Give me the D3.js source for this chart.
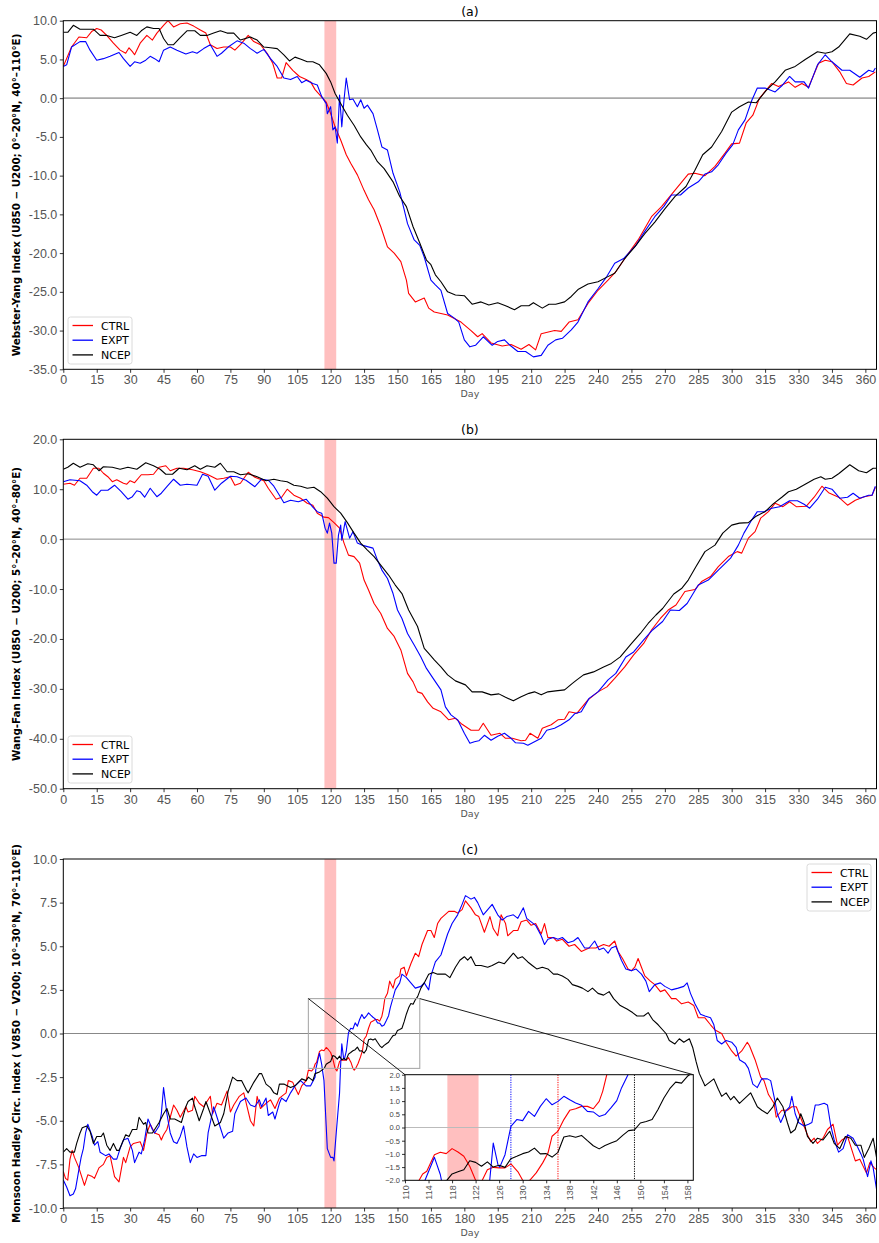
<!DOCTYPE html>
<meta charset="utf-8">
<title>Monsoon circulation indices</title>
<style>
    body {
        margin: 0;
        background: #fff;
        font-family: "DejaVu Sans", sans-serif;
    }
</style>
<body>
<script src="https://cdn.jsdelivr.net/npm/d3@7/dist/d3.min.js"></script>
<script>

    // ---- values: [day, index] ----
    var wyCtrl = [[0,4.1],[3.7,6.6],[7,7.9],[10.5,7.8],[12.7,8.6],[15,9.0],[17,8.8],[19.5,8.1],[22.5,7.1],[25.5,6.2],[28,5.8],[29.5,6.5],[31,6.0],[32,5.6],[34.5,7.1],[37.5,8.1],[40,7.5],[42,8.4],[45,9.4],[47,10.0],[49.5,9.2],[52.5,9.6],[55.5,9.7],[58.5,9.3],[61.5,8.8],[64,8.4],[66,6.9],[69,6.4],[72,6.6],[75,6.6],[77,6.2],[79.5,6.9],[83,8.1],[85.5,7.3],[88.5,6.9],[91.5,5.8],[94,4.5],[96,2.6],[98,2.6],[100,4.6],[103,3.6],[106,2.8],[109,2.4],[111,2.1],[113,1.1],[115.5,0.3],[118,-0.5],[120,-2.0],[122,-3.7],[124.5,-5.4],[127,-7.3],[129,-8.4],[132,-9.9],[135,-11.9],[137,-13.1],[139.5,-14.4],[142.5,-16.6],[145.5,-19.2],[148.5,-20.0],[151.5,-21.1],[154,-23.5],[155,-25.2],[158,-26.3],[162,-25.8],[164,-27.1],[166.5,-27.6],[169.5,-27.8],[172.5,-28.0],[178.5,-28.9],[183,-30],[186,-30.8],[188,-30.4],[192,-31.6],[197,-32],[201,-31.8],[205.5,-32.4],[209,-31.8],[212,-32.5],[214.5,-30.4],[220.5,-30],[223.5,-30.1],[227,-28.9],[231,-28.6],[235.5,-26.5],[240,-24.8],[244.5,-23.5],[248,-22.4],[252.5,-20.5],[258,-18.3],[264,-15.3],[268.5,-14],[274.5,-11.9],[280.5,-9.8],[283.5,-9.7],[288,-10],[292.5,-8.8],[297,-7.1],[300,-5.9],[303.5,-5.8],[306.5,-3.2],[309.5,-2.2],[312.5,0],[318,1.9],[321,1.5],[325.5,2.1],[328.5,1.4],[331.5,1.9],[334.5,1.4],[339,4.5],[342,4.9],[345,4.7],[348.5,3.4],[351.5,1.9],[354.5,1.7],[358.5,2.6],[361.5,2.8],[364.5,3.4]];
    var wyExpt = [[0,4.1],[1.5,4.3],[3.7,6.6],[7.5,7.3],[10,7.3],[12,6.2],[15,4.9],[18,5.1],[21,5.4],[25,5.9],[27,5.1],[30,4.1],[32,4.7],[34.5,4.5],[37,4.9],[39,5.4],[41,5.1],[43,4.7],[45,6.2],[48,6.6],[51,6.2],[55,5.7],[58,6.0],[60,5.8],[63,6.4],[66,6.9],[69,5.4],[71,5.8],[74,6.6],[78,7.4],[81,7.1],[84,6.4],[87,5.8],[90,6.3],[93,5.1],[96,4.1],[99,2.6],[102,2.4],[105,2.8],[107,2.0],[109,2.3],[112,1.9],[114,1.7],[116,0.2],[118,-0.7],[118.5,-2.0],[120,-1.1],[121,-4.1],[122,-3.7],[123,-5.8],[124,0.4],[125,-3.7],[126,-0.2],[127,2.6],[128.5,-0.2],[130,-0.1],[132,-1.1],[133.5,-0.2],[135,-1.3],[136.5,-0.9],[139,-2.0],[141,-4.1],[143,-6.3],[145.5,-6.7],[148,-9.7],[151,-12.1],[153,-14.4],[154.5,-16.2],[157.5,-18.3],[160,-19.0],[162,-20.5],[165,-23.5],[167,-24.1],[169.5,-24.8],[172.5,-27.8],[175.5,-28.4],[177.5,-28.9],[180,-31.2],[182.5,-32.1],[185,-31.9],[188.5,-30.8],[192.5,-31.9],[195,-31.4],[198,-31.2],[200.5,-31.9],[204,-32.7],[207.5,-32.7],[211,-33.4],[214.5,-33.2],[217.5,-31.9],[221,-31.2],[224,-31.0],[228,-29.9],[231,-28.9],[235.5,-26.3],[240,-24.6],[244,-23.0],[247.5,-21.3],[251.5,-20.7],[257,-19.0],[261,-17.2],[265.5,-15.3],[269.5,-14.0],[273,-12.5],[277,-12.5],[280.5,-11.6],[285,-10.8],[288,-9.8],[291,-9.5],[294,-8.6],[297.5,-7.1],[300.5,-6.0],[303,-4.1],[306,-2.8],[309,-0.3],[311.5,1.3],[315,1.3],[319.5,0.8],[322.5,1.6],[326,2.8],[328.5,2.1],[332.5,2.1],[334.5,1.3],[338.5,4.3],[342,5.6],[345,4.7],[349.5,3.6],[353,3.6],[357.5,2.7],[361.5,3.6],[363.5,3.4],[364.5,3.9]];
    var wyNcep = [[0,8.5],[2,8.5],[4.5,9.4],[7.5,8.9],[11,8.9],[13.5,8.9],[16.5,8.1],[19.5,8.1],[23,7.8],[26,8.1],[30,8.5],[33,8.1],[35,8.7],[37.5,9.2],[40.5,9.0],[43,9.0],[45,7.7],[47,6.9],[49.5,6.9],[52,7.7],[55.5,8.7],[59,8.7],[61.5,8.1],[64.5,8.1],[67.5,8.4],[70.5,8.7],[73.5,8.4],[76.5,8.4],[79.5,7.5],[84,7.9],[87,7.5],[90,6.6],[93,6.5],[96,6.4],[99,5.6],[101.5,4.8],[104,5.3],[107,5.0],[109.5,4.7],[112,4.7],[115,4.3],[118,3.2],[120,2.1],[122,0.6],[124.5,-0.7],[127.5,-2.2],[130.5,-3.5],[133.5,-5.0],[136,-6.0],[138,-6.7],[141,-8.2],[144,-9.1],[148,-10.8],[151,-12.7],[154,-14.0],[157,-16.6],[160,-18.7],[163,-20.9],[165,-21.5],[167,-22.8],[169.5,-23.7],[172.5,-25.0],[176,-25.4],[180,-25.5],[183.5,-26.6],[187.5,-26.3],[191,-26.7],[195,-26.4],[198.5,-26.8],[202.5,-27.3],[205.5,-26.8],[209,-26.8],[211,-26.4],[215,-27.1],[218,-26.6],[221,-26.6],[225,-26.3],[228,-25.6],[231,-24.7],[235.5,-24.0],[240,-23.7],[244,-23.1],[247.5,-22.6],[252,-20.7],[256.5,-19.2],[261,-17.5],[265.5,-16.0],[270,-14.3],[274.5,-12.7],[279.5,-11.4],[283.5,-9.3],[287,-7.3],[291,-6.3],[295.5,-4.3],[300,-1.8],[303.5,-1.1],[307.5,-0.5],[311,-0.6],[315.5,1.0],[319.5,2.1],[324,3.6],[328.5,4.1],[333,5.0],[338.5,6.0],[342,5.8],[345,6.0],[348,6.6],[353,8.3],[357.5,8.0],[360.5,7.6],[363.5,8.4],[365,8.5]];

    var wfCtrl = [[0,11.0],[3,11.2],[5,10.8],[7.5,12.2],[10.5,12.2],[13.5,14.2],[16,14.2],[18,13.2],[20,12.5],[22,11.5],[24,11.9],[27,11.2],[28.5,11.0],[30,11.7],[32,11.3],[35,12.9],[38,12.9],[40.5,13.0],[43,14.4],[46,14.7],[48,13.7],[51,14.2],[54,14.2],[58,13.9],[61.5,13.5],[65,12.9],[69,12.0],[72,12.2],[75,12.5],[77,10.8],[79.5,11.2],[83,13.4],[86,12.4],[90,11.7],[92,10.2],[95.5,8.0],[98,8.4],[100.5,10.0],[103.5,8.8],[106.5,8.2],[109.5,7.2],[112,6.8],[114,5.2],[117,4.4],[119,4.3],[121.5,3.3],[124,2.2],[126,-0.8],[128,-3.2],[130.5,-3.5],[133,-4.8],[135,-8.2],[137,-10.2],[139.5,-12.9],[142.5,-14.9],[145.5,-17.9],[148.5,-19.5],[151.5,-22.2],[154.5,-26.9],[157,-28.6],[159,-30.6],[161,-30.9],[163.5,-32.6],[166,-33.9],[169.5,-34.6],[173,-36.2],[176,-35.9],[179,-37.1],[183,-38.3],[186.5,-38.3],[188.5,-36.9],[192,-39.3],[196,-38.9],[198.5,-39.9],[201.5,-39.9],[205.5,-40.4],[207.5,-40.3],[209.5,-38.9],[213,-39.9],[215,-37.9],[219,-37.2],[222,-36.2],[225,-36.1],[227,-34.6],[230.5,-34.9],[235.5,-32.2],[240,-30.6],[244,-29.6],[247.5,-27.9],[252,-25.6],[256,-23.2],[260.5,-20.9],[264,-18.2],[268,-15.9],[271.5,-14.2],[275,-13.2],[279,-10.5],[283.5,-10.1],[286.5,-8.5],[290.5,-7.5],[294,-5.5],[298.5,-3.5],[302.5,-2.5],[304.5,-2.8],[307.5,0.2],[310.5,1.5],[313,4.2],[316.5,5.5],[319.5,7.2],[323,6.5],[326,7.5],[329,6.5],[333.5,6.6],[337,8.4],[340.5,10.6],[343.5,9.3],[348,8.4],[352,6.8],[355.5,7.8],[359.5,8.5],[363,8.8],[364.5,10.4]];
    var wfExpt = [[0,11.5],[3,11.9],[7.5,11.7],[10.5,10.8],[13,9.5],[15,8.8],[17,9.8],[20,9.8],[23,10.8],[26,9.5],[29,8.0],[31,8.5],[33,9.7],[34.5,9.5],[36.5,8.4],[39,10.2],[42,8.5],[44,9.2],[46.5,10.5],[49.5,12.0],[52.5,10.8],[55.5,11.0],[60,10.8],[62.5,13.0],[65,12.6],[68,9.8],[71,11.2],[75,12.6],[78,12.5],[82,11.8],[86,10.5],[89,12.0],[92,11.8],[94.5,10.6],[97,8.8],[99,7.3],[102,7.8],[105.5,7.5],[109,8.0],[112,6.4],[114,5.5],[116,5.2],[117.5,2.2],[118.5,1.2],[119.5,3.2],[120.5,1.2],[121.5,-4.8],[122.5,-4.8],[123.5,0.8],[124.5,2.8],[125,-0.2],[126.5,3.5],[128.5,0.2],[130,1.5],[132,-0.8],[134,-1.2],[136.5,-1.5],[139,-1.8],[141,-4.2],[143,-6.2],[145.5,-7.9],[148,-10.9],[150,-14.2],[152,-15.9],[154.5,-18.9],[157.5,-21.2],[160.5,-23.6],[163,-25.9],[166,-27.9],[169.5,-30.2],[171.5,-33.6],[174,-35.2],[177,-36.2],[180,-38.9],[182.5,-40.9],[184.5,-40.6],[186.5,-40.4],[189,-39.3],[192,-40.3],[195,-39.5],[198,-38.9],[201,-39.9],[203,-40.8],[206.5,-40.9],[208.5,-41.3],[211.5,-40.6],[214.5,-39.9],[217,-38.3],[220.5,-37.9],[223.5,-37.2],[227,-36.2],[229.5,-35.0],[232.5,-34.6],[236,-31.9],[240,-30.6],[244.5,-28.2],[248,-26.9],[252.5,-23.6],[256,-22.6],[260.5,-20.2],[264.5,-18.2],[269,-16.5],[272.5,-14.2],[276.5,-14.3],[280,-12.9],[285,-9.2],[289.5,-8.2],[294,-6.2],[299.5,-3.8],[303,-1.2],[305.5,1.2],[308.5,3.5],[311.5,5.5],[314.5,5.5],[318,6.2],[321.5,6.5],[326,7.7],[329.5,7.7],[332.5,7.0],[335,6.2],[338.5,8.0],[342,10.4],[345,10.0],[348.5,8.2],[352,8.4],[354.5,9.2],[357.5,8.2],[361.5,8.8],[363,8.8],[364.5,10.6]];
    var wfNcep = [[0,14.0],[2,14.4],[4.5,15.2],[7.5,14.4],[11,15.1],[13.5,14.9],[16,13.7],[18,14.5],[22,14.4],[25.5,14.0],[29,14.4],[33,14.0],[37,15.3],[40.5,14.7],[43.5,14.0],[46,13.0],[49,13.0],[52,14.2],[55.5,13.9],[59,14.7],[61.5,14.0],[64.5,14.7],[68,14.4],[70.5,15.2],[73.5,13.5],[76.5,13.5],[79.5,12.9],[83,13.1],[87,12.5],[91,11.7],[94.5,12.0],[97.5,11.7],[100.5,11.5],[103.5,10.8],[106.5,10.6],[109.5,10.2],[112.5,10.4],[115.5,9.5],[118.5,8.2],[121.5,6.5],[124.5,5.2],[127.5,3.3],[130.5,1.2],[133.5,-0.8],[136.5,-2.2],[139.5,-3.5],[143,-5.5],[146,-7.2],[149,-9.2],[152,-10.9],[155,-14.2],[159,-17.5],[162,-21.9],[164,-22.9],[166.5,-24.2],[169.5,-25.6],[172.5,-27.2],[176,-28.4],[180.5,-29.2],[183.5,-30.6],[188,-30.6],[192,-31.2],[195.5,-31.0],[198.5,-31.7],[202,-32.4],[205.5,-31.6],[209,-30.9],[211.5,-30.6],[214.5,-31.2],[217.5,-30.6],[221,-30.4],[225,-30.2],[228.5,-28.9],[230.5,-28.2],[233.5,-27.2],[238,-26.6],[242.5,-25.6],[246,-24.9],[250,-23.6],[254.5,-21.2],[259,-18.9],[262.5,-16.9],[266,-15.2],[269,-13.9],[274,-11.0],[277.5,-9.9],[280.5,-8.2],[284,-5.5],[288,-2.5],[292.5,-1.2],[296,1.2],[300,2.8],[303.5,3.2],[307.5,3.3],[311,4.6],[315,5.5],[318.5,7.0],[322.5,8.4],[325.5,9.5],[329,10.0],[333,11.0],[337,12.0],[340,12.5],[342,12.0],[345,12.2],[348,13.1],[353,14.9],[357,13.7],[360.5,13.3],[363.5,14.2],[365,14.2]];

    var mhCtrl = [[0,-7.9],[1,-8.3],[2,-8.4],[3,-7.2],[4,-6.7],[5,-7.1],[7,-7.7],[8,-8.1],[9.5,-8.7],[11,-8.1],[13,-8.2],[14,-8.3],[16,-7.7],[18,-7.5],[19.5,-7.1],[21,-7.0],[23,-8.2],[25,-8.5],[27,-7.1],[28,-7.4],[30,-6.5],[31.5,-6.3],[34.5,-6.2],[36,-6.7],[37.5,-5.7],[39,-5.2],[41,-5.7],[43,-5.8],[44,-6.1],[45,-5.8],[46.5,-5.5],[48,-4.8],[49.5,-4.1],[51,-4.4],[52.5,-4.8],[55,-4.2],[56,-4.5],[58,-4.4],[59,-3.6],[61,-4.0],[63,-4.2],[66,-3.6],[67,-4.6],[69,-4.0],[71,-4.1],[73.5,-3.3],[75,-4.5],[76.5,-4.1],[79,-3.6],[81,-3.4],[82.5,-4.2],[84,-5.0],[85.5,-5.3],[87,-3.6],[88.5,-4.3],[91,-4.0],[93,-3.8],[95,-4.3],[97,-3.7],[98,-3.6],[100,-3.4],[101,-2.7],[103,-2.8],[104,-3.1],[105.5,-3.5],[107,-3.0],[109,-2.7],[110,-2.1],[111.5,-2.15],[112.4,-2.0],[113,-1.76],[113.7,-1.66],[115,-1.03],[116,-0.94],[117,-0.99],[118,-0.8],[119,-0.93],[120,-1.09],[121,-1.47],[122,-2.0],[122.8,-2.15],[124,-1.6],[125,-1.51],[126,-1.53],[127,-1.53],[128,-1.38],[128.6,-1.53],[129.2,-1.68],[130,-2.0],[130.6,-2.1],[131.2,-2.0],[132.3,-1.72],[133.4,-1.34],[134.3,-0.97],[135,-0.33],[136,-0.14],[137,0.3],[138,0.65],[139,0.71],[140,0.8],[141,0.8],[142,0.71],[143,0.99],[143.6,1.37],[144.3,2.0],[145.5,2.3],[146.5,3.0],[148,2.6],[149,3.1],[151,3.3],[151.5,3.7],[153,3.8],[154,3.3],[156,4.0],[158,4.6],[159.5,4.4],[161,5.1],[163.5,5.9],[165,5.9],[166.5,5.5],[168,6.3],[169.5,6.6],[173,7.0],[175.5,7.0],[177,6.9],[179,7.1],[180.5,7.6],[183,7.2],[185,6.8],[186.5,6.7],[189,5.8],[191.5,6.7],[193,6.0],[195,5.6],[196.5,6.8],[198.5,6.3],[199.5,5.6],[202,5.9],[204,5.9],[205.5,6.4],[208,6.5],[210,6.2],[212,6.3],[214.5,5.7],[216,6.3],[217.5,5.5],[220,5.5],[221.5,5.3],[224,5.4],[227,5.0],[229.5,5.1],[232.5,4.7],[236,4.9],[239,4.9],[242.5,5.1],[245,5.0],[247.5,5.3],[249,4.7],[251,4.3],[253.5,3.7],[255,3.6],[256.5,3.8],[258,4.3],[259.5,3.8],[261,3.3],[263.5,3.0],[265.5,2.8],[268,2.4],[270,2.5],[273,2.0],[275,2.0],[277.5,1.7],[280.5,1.8],[283,1.6],[285,0.9],[288,0.9],[290.5,0.5],[292.5,0.2],[295.5,0.0],[297.5,-0.5],[300,-1.0],[302,-1.3],[304.5,-1.0],[307,-0.5],[308,-0.7],[310.5,-1.5],[313,-2.5],[314.5,-2.7],[316.5,-3.5],[319,-4.0],[320,-4.8],[322.5,-4.4],[325,-4.4],[327,-4.2],[329,-4.2],[331.5,-5.0],[334,-5.8],[335.5,-6.2],[337,-6.0],[338.5,-6.3],[341,-6.0],[343,-5.5],[345.5,-5.2],[347.5,-6.4],[349.5,-6.1],[352,-5.9],[354,-6.7],[355.5,-7.3],[357.5,-7.2],[359,-7.6],[360.5,-8.0],[362,-7.4],[364,-7.7],[365,-7.8]];
    var mhExpt = [[0,-8.4],[1.5,-8.8],[3,-9.3],[4.5,-9.2],[5.5,-8.9],[7,-7.8],[8,-7.1],[9,-6.6],[10,-5.7],[11,-5.2],[13,-5.9],[14,-6.4],[15.5,-6.2],[16.5,-6.8],[19,-7.0],[20.5,-6.9],[22.5,-7.2],[24,-7.2],[25.5,-6.6],[27,-6.1],[29,-6.0],[31,-6.7],[32,-7.4],[34,-6.8],[35,-6.9],[36.5,-6.1],[38,-4.9],[40,-5.5],[41,-5.7],[43,-5.3],[44,-4.6],[45,-3.1],[46.5,-4.6],[48,-5.7],[49.5,-6.2],[51,-6.3],[52.5,-5.9],[54,-5.3],[55.5,-6.5],[57,-7.4],[58.5,-6.9],[60,-7.1],[62,-7.0],[64,-7.0],[65,-5.7],[67.5,-4.2],[69,-4.8],[70.5,-5.4],[72,-6.0],[74,-5.7],[76,-5.6],[77,-4.6],[79.5,-3.9],[82,-3.7],[84,-4.1],[86,-4.2],[88,-3.8],[89,-4.2],[91,-3.7],[92,-4.7],[94,-4.5],[95,-4.9],[97,-4.0],[98,-3.7],[100,-3.9],[102,-3.4],[104,-3.0],[106.5,-2.7],[109,-3.0],[111,-3.0],[113,-2.5],[113.4,-2.0],[115,-1.13],[116,-1.78],[116.2,-2.0],[117,-2.7],[118,-5.3],[118.5,-6.6],[120,-7.1],[121,-7.1],[121.5,-7.3],[122.5,-5.7],[124,-3.4],[124.4,-2.0],[125,-0.59],[125.8,-1.41],[126.1,-1.5],[127,-1.03],[128,0.04],[129,0.3],[130,0.26],[131,0.61],[132,0.42],[133,0.8],[134,1.09],[135,0.86],[136,0.99],[137,1.18],[138,1.05],[139,0.93],[140,0.84],[141,0.61],[142,0.59],[143,0.42],[144,0.49],[145,0.74],[146,1.02],[146.8,1.5],[147.9,2.0],[149,2.5],[151,2.9],[152,3.4],[154,3.2],[156,2.9],[158,2.6],[160.5,2.7],[162,2.9],[164,2.5],[165,3.3],[167,4.1],[169.5,4.5],[172.5,5.7],[174.5,6.3],[177,6.8],[179,7.4],[180.5,7.9],[183,7.7],[184.5,7.8],[186,7.5],[188.5,6.8],[190.5,7.1],[192.5,7.4],[195,6.8],[197,6.5],[199,6.7],[202,6.8],[204,6.6],[206.5,7.2],[208,6.6],[210,6.4],[212,6.2],[214.5,5.6],[216,5.1],[217.5,5.4],[220,5.5],[222,5.4],[224,5.5],[226.5,5.2],[229,5.3],[231,5.5],[234,4.9],[236,4.9],[238.5,5.3],[240.5,4.8],[242.5,4.9],[244.5,4.6],[246,4.9],[248,5.0],[250.5,4.2],[252.5,3.7],[255,3.6],[257,3.7],[259.5,3.4],[261.5,3.0],[263,2.4],[265.5,2.8],[268,2.9],[270,2.7],[273,2.5],[276,2.6],[278.5,2.7],[280,2.9],[281.5,2.3],[283.5,1.7],[286,1.1],[288,1.0],[290.5,0.9],[292,0.5],[293.5,-0.4],[295.5,-0.6],[297.5,-0.4],[300,-0.5],[302,-0.8],[303.5,-1.5],[306,-1.7],[307.5,-2.0],[309.5,-2.9],[311.5,-3.1],[313.5,-2.6],[316,-2.6],[317.5,-2.7],[319,-3.6],[320.5,-4.6],[322,-5.1],[324.5,-4.4],[326,-4.2],[327,-3.6],[328.5,-4.6],[330,-5.1],[332.5,-5.3],[334.5,-5.2],[336,-5.1],[337.5,-4.1],[339,-4.1],[341.5,-4.0],[343,-4.1],[344.5,-5.3],[346,-6.1],[348,-6.8],[350,-6.6],[352,-5.8],[354.5,-6.0],[356.5,-6.5],[358,-6.9],[359,-7.2],[361,-8.2],[362.5,-7.3],[363.5,-7.7],[365,-8.9]];
    var mhNcep = [[0,-6.8],[1.5,-6.6],[3,-6.8],[5,-6.8],[6,-6.3],[7.5,-5.7],[8.5,-5.4],[10.5,-5.3],[12,-5.6],[13.5,-6.3],[15,-5.9],[17,-5.9],[18,-5.7],[19.5,-6.4],[21,-6.7],[22.5,-6.3],[24,-6.7],[25,-6.7],[27,-6.1],[28,-5.8],[29.5,-5.9],[31,-5.5],[33,-5.5],[34,-4.8],[36,-5.2],[37,-5.1],[38,-5.7],[40,-5.7],[41.5,-5.4],[43,-5.1],[45,-4.6],[46.5,-4.3],[48,-4.9],[50,-4.9],[53,-5.1],[55,-4.2],[56,-3.9],[58,-3.7],[59,-4.2],[61,-5.0],[63,-4.3],[64,-3.9],[66,-4.6],[68,-5.3],[70.5,-5.1],[72,-4.6],[74,-3.3],[76,-2.5],[78,-2.7],[80,-2.7],[82,-3.2],[83,-3.4],[85.5,-2.8],[88,-2.3],[89,-2.3],[91,-2.9],[93,-3.1],[94.5,-3.4],[96,-3.5],[97,-2.9],[99,-2.9],[100.5,-3.0],[102,-3.1],[104,-3.0],[105.5,-2.8],[107,-2.6],[109,-2.7],[110,-2.5],[112,-2.7],[113,-2.3],[115,-2.2],[117.1,-2.0],[118,-1.76],[119,-1.68],[120,-1.6],[121,-1.26],[122,-1.32],[123,-1.47],[124,-1.3],[125,-1.5],[126,-1.43],[127,-1.51],[128,-1.18],[129,-1.09],[130,-0.99],[131,-0.93],[132,-0.78],[133,-1.0],[134,-0.99],[135,-1.12],[136,-0.94],[137,-0.36],[138,-0.31],[139,-0.37],[140,-0.3],[141,-0.5],[142,-0.69],[143,-0.81],[144,-0.68],[145,-0.59],[146,-0.5],[147,-0.3],[148,-0.12],[149,-0.09],[150,0.17],[151,0.23],[152,0.3],[153,0.68],[154,1.12],[155,1.47],[156,1.72],[157,1.68],[158,1.94],[159,2.1],[160.5,2.6],[162,2.9],[164,3.4],[166,3.5],[168,3.4],[169.5,3.4],[171.5,3.4],[173.5,3.2],[176,3.8],[178,4.2],[180,4.4],[181.5,4.2],[183,4.4],[185,3.9],[187.5,3.9],[190.5,3.8],[192.5,3.9],[195.5,4.1],[198,4.0],[200,4.3],[202,4.6],[204,4.3],[206,4.4],[208.5,4.1],[210.5,3.9],[212.5,3.7],[215,3.8],[217.5,3.7],[220,3.4],[222,3.4],[224,3.3],[226.5,3.1],[228.5,2.8],[231,2.7],[233,2.6],[235.5,2.4],[237.5,2.6],[240,2.3],[242.5,2.2],[245,2.4],[247,2.0],[250,1.6],[253,1.4],[255.5,1.2],[257.5,1.0],[260.5,1.0],[262.5,1.2],[264.5,0.8],[267,0.5],[270.5,0.0],[272,-0.4],[274.5,-0.6],[276.5,-0.3],[278.5,-0.5],[281,-0.3],[282.5,-0.8],[284,-1.6],[285.5,-2.3],[288,-3.0],[290,-2.8],[292,-2.6],[294,-3.2],[295.5,-3.6],[297.5,-3.4],[299.5,-3.8],[301,-3.6],[303.5,-4.0],[306,-3.7],[308.5,-3.4],[311.5,-4.2],[313.5,-4.4],[316,-4.6],[318.5,-4.2],[320.5,-3.7],[323,-4.2],[325,-5.1],[326.5,-5.7],[328.5,-5.5],[331,-4.6],[332.5,-5.1],[334,-5.9],[336.5,-6.3],[338.5,-6.0],[341,-6.1],[344,-5.6],[346,-6.3],[348.5,-6.6],[351,-5.9],[353.5,-6.0],[355.5,-6.4],[358,-6.4],[359.5,-7.1],[361.5,-6.6],[363.5,-6.0],[365,-7.1]];

    var seriesNames = ["CTRL", "EXPT", "NCEP"];
    var seriesColors = ["#ff0000", "#0000ff", "#000000"];
    var dayTicks = d3.range(0, 361, 15);
    var insetDayTicks = d3.range(110, 159, 4);
    var insetIdxTicks = d3.range(-2, 2.01, 0.5);
    var onsetBand = [117.2, 122.5];          // shaded days
    var onsetDays = [[128, "#0000ff"], [136, "#ff0000"], [149, "#000000"]]; // dotted lines in inset

    var panels = [
        { title: "(a)", ylabel: "Webster-Yang Index (U850 \u2212 U200; 0\u00b0\u201320\u00b0N, 40\u00b0\u2013110\u00b0E)",
          top: 20.7, bottom: 369.3, domain: [-35, 10], ticks: d3.range(-35, 10.1, 5),
          data: [wyCtrl, wyExpt, wyNcep], zero: ["#aaaaaa", 1.6], legend: [68, 317] },
        { title: "(b)", ylabel: "Wang-Fan Index (U850 \u2212 U200; 5\u00b0\u201320\u00b0N, 40\u00b0\u201380\u00b0E)",
          top: 439.3, bottom: 788.7, domain: [-50, 20], ticks: d3.range(-50, 20.1, 10),
          data: [wfCtrl, wfExpt, wfNcep], zero: ["#888888", 1], legend: [68, 736] },
        { title: "(c)", ylabel: "Monsoon Hadley Circ. Index ( V850 \u2212 V200; 10\u00b0\u201330\u00b0N, 70\u00b0\u2013110\u00b0E)",
          top: 859, bottom: 1208, domain: [-10, 10], ticks: d3.range(-10, 10.1, 2.5),
          data: [mhCtrl, mhExpt, mhNcep], zero: ["#888888", 1], legend: [807, 864] }
    ];

    var width = 879, height = 1243,
        left = 63.3, right = 876.5;

    var svg = d3.select("body").append("svg")
        .attr("width", width)
        .attr("height", height)
        .style("font-family", "'DejaVu Sans', sans-serif");

    var x = d3.scaleLinear().domain([0, 365]).range([left, right]);
    var fmt = d3.format(".1f");
    var hyphen = function (d) { return fmt(d).replace("\u2212", "-"); };

    function styleAxis(g, size, color) {
        g.select(".domain").remove();
        g.selectAll(".tick line").attr("stroke", "#000").attr("stroke-width", 0.8);
        g.selectAll(".tick text").attr("fill", color).style("font-size", size + "px");
    }

    panels.forEach(function (p, pi) {
        var y = d3.scaleLinear().domain(p.domain).range([p.bottom, p.top]);
        var g = svg.append("g");
        var clipId = "clip" + pi;

        svg.append("clipPath").attr("id", clipId).append("rect")
            .attr("x", left).attr("y", p.top)
            .attr("width", right - left).attr("height", p.bottom - p.top);

        var plot = g.append("g").attr("clip-path", "url(#" + clipId + ")");

        plot.append("rect")
            .attr("x", x(onsetBand[0])).attr("y", p.top)
            .attr("width", x(onsetBand[1]) - x(onsetBand[0]))
            .attr("height", p.bottom - p.top)
            .attr("fill", "#ff0000").attr("fill-opacity", 0.25);

        plot.append("line")
            .attr("x1", left).attr("x2", right)
            .attr("y1", y(0)).attr("y2", y(0))
            .attr("stroke", p.zero[0]).attr("stroke-width", p.zero[1]);

        var line = d3.line()
            .x(function (d) { return x(d[0]); })
            .y(function (d) { return y(d[1]); });

        p.data.forEach(function (s, i) {
            plot.append("path")
                .datum(s)
                .attr("d", line)
                .attr("fill", "none")
                .attr("stroke", seriesColors[i])
                .attr("stroke-width", 1.1)
                .attr("stroke-linejoin", "round");
        });

        // axes
        var ax = g.append("g").attr("transform", "translate(0," + p.bottom + ")")
            .call(d3.axisBottom(x).tickValues(dayTicks).tickFormat(d3.format("d")).tickSizeOuter(0).tickSize(3.5).tickPadding(2.5));
        styleAxis(ax, 12.5, "#555");
        var ay = g.append("g").attr("transform", "translate(" + left + ",0)")
            .call(d3.axisLeft(y).tickValues(p.ticks).tickFormat(hyphen).tickSizeOuter(0).tickSize(3.5).tickPadding(2.5));
        styleAxis(ay, 12.5, "#555");

        g.append("rect")
            .attr("x", left).attr("y", p.top)
            .attr("width", right - left).attr("height", p.bottom - p.top)
            .attr("fill", "none").attr("stroke", "#000").attr("stroke-width", 1);

        g.append("text")
            .attr("x", (left + right) / 2).attr("y", p.top - 5)
            .attr("text-anchor", "middle")
            .style("font-size", "12.5px")
            .text(p.title);

        g.append("text")
            .attr("x", (left + right) / 2).attr("y", p.bottom + 28)
            .attr("text-anchor", "middle")
            .attr("fill", "#555")
            .style("font-size", "9.5px")
            .text("Day");

        g.append("text")
            .attr("transform", "translate(20," + ((p.top + p.bottom) / 2) + ") rotate(-90)")
            .attr("text-anchor", "middle")
            .style("font-size", "10.3px")
            .style("font-weight", "bold")
            .text(p.ylabel);

        // legend
        var lg = g.append("g").attr("transform", "translate(" + p.legend[0] + "," + p.legend[1] + ")");
        lg.append("rect")
            .attr("width", 64).attr("height", 47).attr("rx", 2.5)
            .attr("fill", "#fff").attr("fill-opacity", 0.8)
            .attr("stroke", "#d0d0d0").attr("stroke-width", 0.8);
        seriesNames.forEach(function (n, i) {
            var ly = 8.5 + i * 14.7;
            lg.append("line")
                .attr("x1", 4.5).attr("x2", 25)
                .attr("y1", ly).attr("y2", ly)
                .attr("stroke", seriesColors[i]).attr("stroke-width", 1.3);
            lg.append("text")
                .attr("x", 33).attr("y", ly + 4)
                .style("font-size", "11px")
                .text(n);
        });

        if (pi === 2) drawInset(p, y);
    });

    function drawInset(p, y) {
        // zoom rectangle and connectors in the main panel
        svg.append("rect")
            .attr("x", x(110)).attr("y", y(2))
            .attr("width", x(160) - x(110)).attr("height", y(-2) - y(2))
            .attr("fill", "none").attr("stroke", "#aaaaaa").attr("stroke-width", 1.1);

        var box = { left: 405, right: 693.3, top: 1074.7, bottom: 1180.3 };

        svg.append("line")
            .attr("x1", x(110)).attr("y1", y(2)).attr("x2", box.left).attr("y2", box.top)
            .attr("stroke", "#000").attr("stroke-width", 0.9);
        svg.append("line")
            .attr("x1", x(160)).attr("y1", y(2)).attr("x2", box.right).attr("y2", box.top)
            .attr("stroke", "#000").attr("stroke-width", 0.9);

        var xi = d3.scaleLinear().domain([110, 159]).range([box.left, box.right]);
        var yi = d3.scaleLinear().domain([-2, 2]).range([box.bottom, box.top]);

        var ig = svg.append("g");
        ig.append("rect")
            .attr("x", box.left).attr("y", box.top)
            .attr("width", box.right - box.left).attr("height", box.bottom - box.top)
            .attr("fill", "#fff");

        svg.append("clipPath").attr("id", "clipInset").append("rect")
            .attr("x", box.left).attr("y", box.top)
            .attr("width", box.right - box.left).attr("height", box.bottom - box.top);

        var plot = ig.append("g").attr("clip-path", "url(#clipInset)");

        plot.append("rect")
            .attr("x", xi(onsetBand[0])).attr("y", box.top)
            .attr("width", xi(onsetBand[1]) - xi(onsetBand[0]))
            .attr("height", box.bottom - box.top)
            .attr("fill", "#ff0000").attr("fill-opacity", 0.25);

        plot.append("line")
            .attr("x1", box.left).attr("x2", box.right)
            .attr("y1", yi(0)).attr("y2", yi(0))
            .attr("stroke", "#bbbbbb").attr("stroke-width", 1);

        onsetDays.forEach(function (o) {
            plot.append("line")
                .attr("x1", xi(o[0])).attr("x2", xi(o[0]))
                .attr("y1", box.top).attr("y2", box.bottom)
                .attr("stroke", o[1]).attr("stroke-width", 1)
                .attr("stroke-dasharray", "1.2,1.2");
        });

        var line = d3.line()
            .x(function (d) { return xi(d[0]); })
            .y(function (d) { return yi(d[1]); });

        p.data.forEach(function (s, i) {
            plot.append("path")
                .datum(s)
                .attr("d", line)
                .attr("fill", "none")
                .attr("stroke", seriesColors[i])
                .attr("stroke-width", 1.1)
                .attr("stroke-linejoin", "round");
        });

        var ax = ig.append("g").attr("transform", "translate(0," + box.bottom + ")")
            .call(d3.axisBottom(xi).tickValues(insetDayTicks).tickFormat(d3.format("d")).tickSizeOuter(0).tickSize(3).tickPadding(2));
        styleAxis(ax, 9, "#555");
        ax.selectAll(".tick text")
            .attr("transform", "rotate(-90)")
            .attr("text-anchor", "end")
            .attr("x", -5).attr("y", 0).attr("dy", "0.35em");

        var ay = ig.append("g").attr("transform", "translate(" + box.left + ",0)")
            .call(d3.axisLeft(yi).tickValues(insetIdxTicks).tickFormat(fmt).tickSizeOuter(0).tickSize(3).tickPadding(2));
        styleAxis(ay, 7.5, "#444");

        ig.append("rect")
            .attr("x", box.left).attr("y", box.top)
            .attr("width", box.right - box.left).attr("height", box.bottom - box.top)
            .attr("fill", "none").attr("stroke", "#000").attr("stroke-width", 1);
    }

</script>
